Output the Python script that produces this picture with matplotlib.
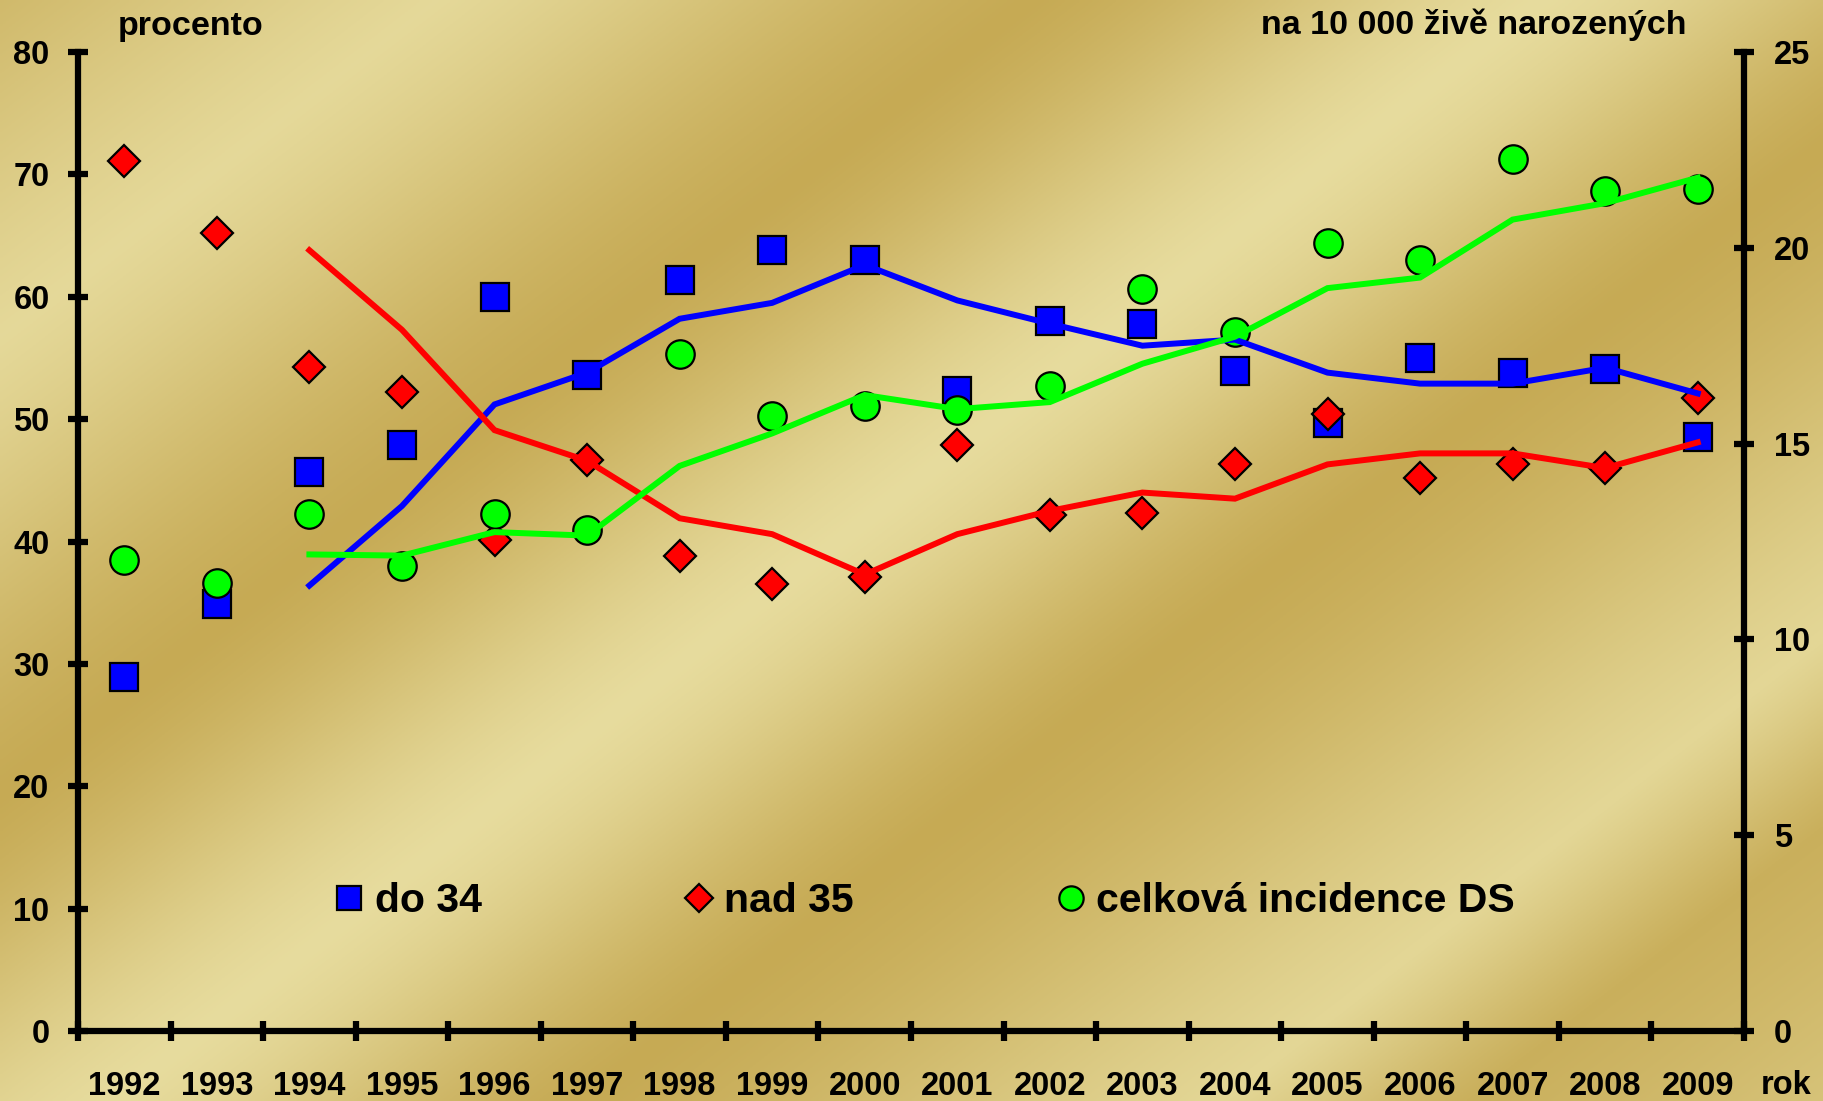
import numpy as np
import matplotlib
matplotlib.use('Agg')
import matplotlib.pyplot as plt
from matplotlib.lines import Line2D

plt.rcParams['font.family'] = ['Liberation Sans', 'DejaVu Sans']
plt.rcParams['font.weight'] = 'bold'

# ---------------- data ----------------
years = [str(y) for y in range(1992, 2010)]
do34 = [28.9, 34.9, 45.7, 47.9, 60.0, 53.6, 61.4, 63.8, 63.0, 52.3,
        58.0, 57.8, 53.9, 49.7, 55.0, 53.8, 54.1, 48.5]
nad35 = [71.1, 65.2, 54.3, 52.2, 40.1, 46.7, 38.8, 36.5, 37.1, 47.9,
         42.2, 42.3, 46.3, 50.4, 45.2, 46.3, 46.0, 51.7]
incidence = [12.02, 11.43, 13.21, 11.88, 13.21, 12.80, 17.28, 15.71, 15.97, 15.86,
             16.48, 18.94, 17.84, 20.13, 19.69, 22.27, 21.44, 21.50]

trend_years = years[2:]
do34_trend = [36.4, 42.9, 51.2, 53.8, 58.2, 59.5, 62.6, 59.7, 57.8, 56.0,
              56.5, 53.8, 52.9, 52.9, 54.2, 52.1]
nad35_trend = [63.8, 57.3, 49.1, 46.6, 41.9, 40.6, 37.3, 40.6, 42.5, 44.0,
               43.5, 46.3, 47.2, 47.2, 46.0, 48.1]
incidence_trend = [12.17, 12.14, 12.74, 12.65, 14.43, 15.26, 16.24, 15.88, 16.06, 17.04,
                   17.73, 18.97, 19.24, 20.72, 21.14, 21.79]

left_ticks = [0, 10, 20, 30, 40, 50, 60, 70, 80]
right_ticks = [0, 5, 10, 15, 20, 25]
labels = ['do 34', 'nad 35', 'celková incidence DS']

# ---------------- figure ----------------
W, H = 1823, 1101
fig = plt.figure(figsize=(W / 100, H / 100), dpi=100)

# gold diagonal gradient background
yy, xx = np.mgrid[0:H:3, 0:W:3]
t = xx + 1.3 * yy
st = [0, 435, 1030, 1540, 2010, 2650, 2900, 3300]
sv = [0.35, 0.9, 0.0, 1.0, 0.0, 0.85, 0.15, 0.55]
v = np.interp(t, st, sv)
v = 0.5 * v + 0.5 * v * v * (3 - 2 * v)
dark = np.array([198, 170, 84]) / 255
light = np.array([231, 220, 158]) / 255
img = dark + (light - dark) * v[..., None]
bg = fig.add_axes([0, 0, 1, 1])
bg.imshow(img, extent=[0, 1, 0, 1], aspect='auto', origin='upper')
bg.axis('off')

left, right = 78 / W, 1744 / W
bottom, top = 1 - 1031 / H, 1 - 52 / H
ax = fig.add_axes([left, bottom, right - left, top - bottom])
ax2 = ax.twinx()
ax.set_zorder(ax2.get_zorder() + 1)
ax.patch.set_visible(False)
ax2.patch.set_visible(False)

x = np.arange(len(years))
xt = np.array([years.index(y) for y in trend_years])

ms_kw = dict(linestyle='none', markeredgecolor='black', markeredgewidth=1.6)
ax.plot(x, do34, marker='s', markersize=20.5, markerfacecolor='#0000FF', zorder=3, **ms_kw)
ax.plot(x, nad35, marker='D', markersize=16.5, markerfacecolor='#FF0000', zorder=3, **ms_kw)
ax.plot(x, incidence, marker='o', markersize=20.5, markerfacecolor='#00FF00', zorder=3,
        transform=ax2.transData, **ms_kw)

ax.plot(xt, do34_trend, color='#0000FF', lw=4.3, zorder=4, solid_joinstyle='miter')
ax.plot(xt, nad35_trend, color='#FF0000', lw=4.3, zorder=4, solid_joinstyle='miter')
ax.plot(xt, incidence_trend, color='#00FF00', lw=4.3, zorder=4, solid_joinstyle='miter',
        transform=ax2.transData)

ax.set_xlim(-0.5, len(years) - 0.5)
ax.set_ylim(0, 80)
ax2.set_ylim(0, 25)

for s in ['top', 'right']:
    ax.spines[s].set_visible(False)
for s in ['top', 'left', 'bottom']:
    ax2.spines[s].set_visible(False)
for s in ['left', 'bottom']:
    ax.spines[s].set_linewidth(4.5)
ax2.spines['right'].set_linewidth(4.5)

ax.set_yticks(left_ticks)
ax.set_yticklabels([str(v) for v in left_ticks])
ax2.set_yticks(right_ticks)
ax2.set_yticklabels([str(v) for v in right_ticks])

ax.set_xticks(np.arange(-0.5, len(years), 1.0))
ax.set_xticklabels([])
ax.set_xticks(x, minor=True)
ax.set_xticklabels(years, minor=True)

tick_kw = dict(direction='inout', length=15, width=4.5, labelsize=23.5, colors='black')
ax.tick_params(axis='y', which='major', pad=13, **tick_kw)
ax2.tick_params(axis='y', which='major', pad=14, **tick_kw)
ax.tick_params(axis='x', which='major', **tick_kw)
ax.tick_params(axis='x', which='minor', length=0, pad=29, labelsize=23.5)
for lab in ax.get_yticklabels() + ax2.get_yticklabels() + ax.get_xticklabels(minor=True):
    lab.set_fontweight('bold')

fig.text(118 / W, 1 - 27 / H, 'procento', fontsize=24.5, fontweight='bold', ha='left', va='center')
fig.text(1261 / W, 1 - 25 / H, 'na 10 000 živě narozených', fontsize=24.5, fontweight='bold',
         ha='left', va='center')
fig.text(1761 / W, 1 - 1085 / H, 'rok', fontsize=23.5, fontweight='bold', ha='left', va='center')

handles = [
    Line2D([], [], marker='s', markersize=17.5, markerfacecolor='#0000FF', **ms_kw),
    Line2D([], [], marker='D', markersize=14, markerfacecolor='#FF0000', **ms_kw),
    Line2D([], [], marker='o', markersize=17.5, markerfacecolor='#00FF00', **ms_kw),
]
fig.legend(handles, labels, loc='center left', bbox_to_anchor=(337 / W, 1 - 901 / H),
           ncol=3, frameon=False, prop=dict(size=29.5, weight='bold'),
           handlelength=0.6, handletextpad=0.32, columnspacing=5.0, borderpad=0,
           borderaxespad=0)

fig.savefig('out.png', dpi=100)
